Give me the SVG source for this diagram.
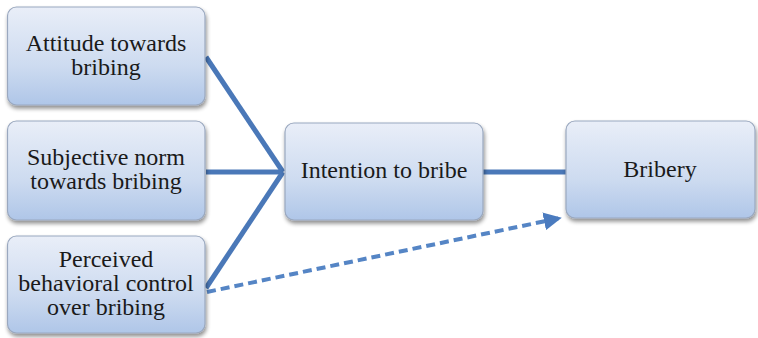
<svg xmlns="http://www.w3.org/2000/svg" width="758" height="338" viewBox="0 0 758 338">
<defs>
<linearGradient id="g" x1="0" y1="0" x2="0" y2="1">
<stop offset="0" stop-color="#e9eef8"/>
<stop offset="0.6" stop-color="#cddbf0"/>
<stop offset="1" stop-color="#afc6e8"/>
</linearGradient>
<filter id="sh" x="-10%" y="-10%" width="125%" height="130%">
<feGaussianBlur in="SourceAlpha" stdDeviation="2"/>
<feOffset dx="1" dy="3" result="b"/>
<feComponentTransfer><feFuncA type="linear" slope="0.45"/></feComponentTransfer>
<feMerge><feMergeNode/><feMergeNode in="SourceGraphic"/></feMerge>
</filter>
<marker id="ah" viewBox="0 0 10 10" refX="9" refY="5" markerWidth="4.5" markerHeight="4.5" orient="auto" markerUnits="strokeWidth">
<path d="M0,0 L10,5 L0,10 z" fill="#4a7bbf"/>
</marker>
</defs>
<style>
.box{fill:url(#g);stroke:#9aa8bf;stroke-width:1.2;filter:url(#sh)}
.t{font-family:"Liberation Serif","Times New Roman",serif;font-size:24px;fill:#1a1a1a;text-anchor:middle}
.c{stroke:#4a78b8;stroke-width:5;fill:none;stroke-linecap:butt}
.d{stroke:#5585c5;stroke-width:4;fill:none;stroke-dasharray:9,5}
</style>
<rect width="758" height="338" fill="#ffffff"/>
<g id="connectors">
<line class="c" x1="206" y1="57" x2="283" y2="172"/>
<line class="c" x1="206" y1="172" x2="283" y2="172"/>
<line class="c" x1="206" y1="288" x2="283" y2="172"/>
<line class="c" x1="483" y1="172" x2="566" y2="172"/>
<line class="d" x1="207" y1="292" x2="560" y2="218" marker-end="url(#ah)"/>
</g>
<g id="attitude">
<rect class="box" x="7.5" y="7" width="197.5" height="98" rx="9"/>
<text class="t" x="106" y="51">Attitude towards</text>
<text class="t" x="106" y="75">bribing</text>
</g>
<g id="subjective">
<rect class="box" x="7.5" y="121" width="197.5" height="99" rx="9"/>
<text class="t" x="106" y="165">Subjective norm</text>
<text class="t" x="106" y="189">towards bribing</text>
</g>
<g id="perceived">
<rect class="box" x="7.5" y="236" width="197.5" height="97" rx="9"/>
<text class="t" x="106" y="267">Perceived</text>
<text class="t" x="106" y="291">behavioral control</text>
<text class="t" x="106" y="315">over bribing</text>
</g>
<g id="intention">
<rect class="box" x="285" y="123" width="198" height="97" rx="9"/>
<text class="t" x="384" y="178">Intention to bribe</text>
</g>
<g id="bribery">
<rect class="box" x="566" y="121" width="189" height="97" rx="9"/>
<text class="t" x="660" y="177">Bribery</text>
</g>
</svg>
